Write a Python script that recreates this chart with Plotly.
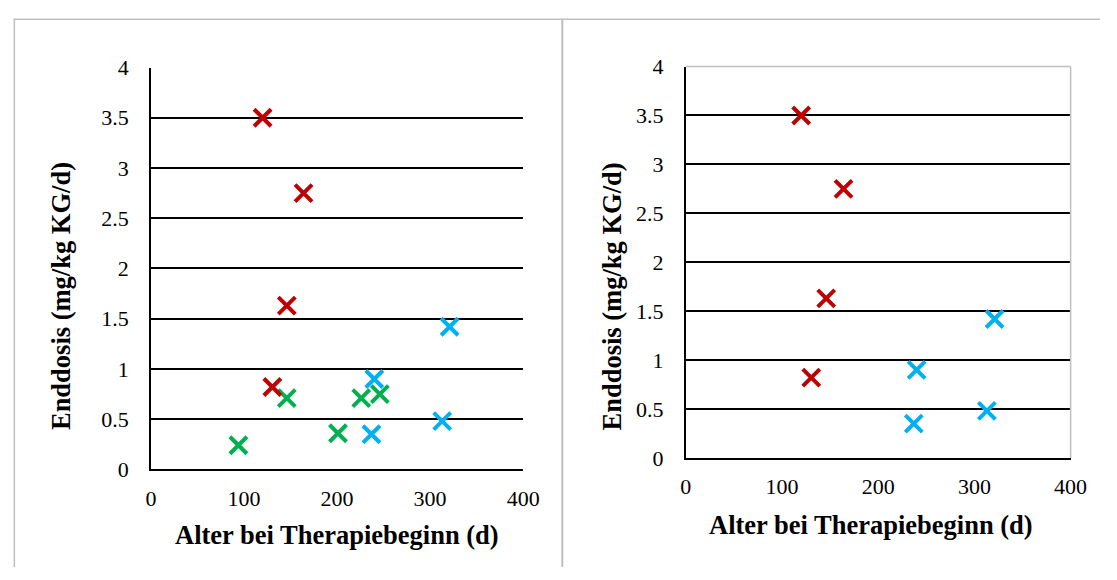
import plotly.graph_objects as go

# Data
red_x = [120, 164, 146, 130.5]
red_y = [3.5, 2.75, 1.63, 0.82]
green_x = [94, 146, 201, 226, 246]
green_y = [0.24, 0.71, 0.36, 0.71, 0.75]
blue_x = [240, 237, 321, 313]
blue_y = [0.90, 0.35, 1.42, 0.48]

y_ticks = [0, 0.5, 1, 1.5, 2, 2.5, 3, 3.5, 4]
y_labels = ["0", "0.5", "1", "1.5", "2", "2.5", "3", "3.5", "4"]
x_ticks = [0, 100, 200, 300, 400]

x_title = "Alter bei Therapiebeginn (d)"
y_title = "Enddosis (mg/kg KG/d)"

RED = "#C00000"
GREEN = "#00B050"
BLUE = "#00B0F0"

W, H = 1117, 580
SERIF = "Liberation Serif, Times New Roman, serif"

def px_x(p):
    return p / W

def px_y(p):
    return 1 - p / H

def mk(color):
    return dict(symbol="x-thin", size=17, line=dict(color=color, width=4))

fig = go.Figure()
# left panel
fig.add_trace(go.Scatter(x=green_x, y=green_y, mode="markers", marker=mk(GREEN), xaxis="x", yaxis="y"))
fig.add_trace(go.Scatter(x=red_x, y=red_y, mode="markers", marker=mk(RED), xaxis="x", yaxis="y"))
fig.add_trace(go.Scatter(x=blue_x, y=blue_y, mode="markers", marker=mk(BLUE), xaxis="x", yaxis="y"))
# right panel
fig.add_trace(go.Scatter(x=red_x, y=red_y, mode="markers", marker=mk(RED), xaxis="x2", yaxis="y2"))
fig.add_trace(go.Scatter(x=blue_x, y=blue_y, mode="markers", marker=mk(BLUE), xaxis="x2", yaxis="y2"))

tickfont = dict(family=SERIF, size=22, color="#000000")

def xax(domain, anchor):
    return dict(domain=domain, anchor=anchor, range=[0, 400], tickvals=x_ticks,
                showgrid=False, zeroline=False, showline=True, linecolor="#000000",
                linewidth=1.5, ticks="", tickfont=tickfont, ticklabelstandoff=8,
                fixedrange=True)

def yax(domain, anchor):
    return dict(domain=domain, anchor=anchor, range=[0, 4], tickvals=y_ticks,
                ticktext=y_labels, showgrid=True, gridcolor="#000000", gridwidth=1.5,
                zeroline=False, showline=True, linecolor="#000000", linewidth=1.5,
                ticks="", tickfont=tickfont, ticklabelstandoff=16, fixedrange=True)

fig.update_layout(
    width=W, height=H,
    margin=dict(l=0, r=0, t=0, b=0),
    paper_bgcolor="white", plot_bgcolor="white",
    showlegend=False,
    xaxis=xax([px_x(148), px_x(528)], "y"),
    yaxis=yax([px_y(478), px_y(58)], "x"),
    xaxis2=xax([px_x(694), px_x(1087)], "y2"),
    yaxis2=yax([px_y(466), px_y(57)], "x2"),
)

titlefont = dict(family=SERIF, size=26.5, color="#000000")
fig.add_annotation(x=px_x(338), y=px_y(547), xref="paper", yref="paper", text="<b>%s</b>" % x_title,
                   showarrow=False, font=titlefont, xanchor="center", yanchor="middle")
fig.add_annotation(x=px_x(883), y=px_y(536), xref="paper", yref="paper", text="<b>%s</b>" % x_title,
                   showarrow=False, font=titlefont, xanchor="center", yanchor="middle")
fig.add_annotation(x=px_x(56), y=px_y(297), xref="paper", yref="paper", text="<b>%s</b>" % y_title,
                   showarrow=False, font=titlefont, textangle=-90, xanchor="center", yanchor="middle")
fig.add_annotation(x=px_x(619), y=px_y(297), xref="paper", yref="paper", text="<b>%s</b>" % y_title,
                   showarrow=False, font=titlefont, textangle=-90, xanchor="center", yanchor="middle")

GRAY = "#BFBFBF"
shapes = [
    dict(type="line", xref="paper", yref="paper", x0=px_x(8), x1=1, y0=px_y(7.5), y1=px_y(7.5),
         line=dict(color=GRAY, width=1.5)),
    dict(type="line", xref="paper", yref="paper", x0=px_x(8.5), x1=px_x(8.5), y0=px_y(7), y1=0,
         line=dict(color=GRAY, width=1.5)),
    dict(type="line", xref="paper", yref="paper", x0=px_x(568), x1=px_x(568), y0=px_y(7), y1=0,
         line=dict(color=GRAY, width=2)),
    # right plot area border top/right
    dict(type="line", xref="x2 domain", yref="y2 domain", x0=0, x1=1, y0=1, y1=1,
         line=dict(color=GRAY, width=1.5)),
    dict(type="line", xref="x2 domain", yref="y2 domain", x0=1, x1=1, y0=0, y1=1,
         line=dict(color=GRAY, width=1.5)),
]
fig.update_layout(shapes=shapes)

post = ("document.documentElement.style.margin='0';document.body.style.margin='0';"
        "document.body.style.padding='0';")
fig.write_html("out.html", post_script=post)
